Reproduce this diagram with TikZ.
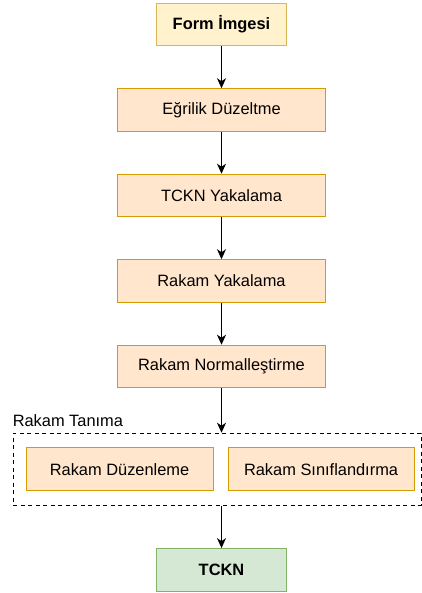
\documentclass[tikz,border=0pt]{standalone}
\usepackage{fontspec}
\setmainfont{Liberation Sans}
\usepackage{xcolor}
\usepackage{tikz}
\usetikzlibrary{arrows.meta}
\usetikzlibrary{positioning}
\definecolor{orangefill}{HTML}{FFE6CC}
\definecolor{orangeline}{HTML}{D79B00}
\definecolor{yellowfill}{HTML}{FFF2CC}
\definecolor{yellowline}{HTML}{D6B656}
\definecolor{greenfill}{HTML}{D5E8D4}
\definecolor{greenline}{HTML}{82B366}
\tikzset{
    flow box/.style={
        draw=orangeline,
        fill=orangefill,
        line width=1pt,
        align=center,
        minimum height=42.5pt,
        minimum width=208pt,
        font=\fontsize{16.4}{19}\selectfont
    },
    end box/.style={
        flow box,
        minimum width=130pt,
        font=\fontsize{16.4}{19}\selectfont\bfseries
    },
    group box/.style={
        draw=black,
        line width=0.9pt,
        dash pattern=on 4pt off 3.5pt,
        minimum width=408pt,
        minimum height=72pt
    },
    flow arrow/.style={
        -{Stealth[length=10pt,width=9pt,inset=3pt]},
        line width=1.2pt
    }
}
\begin{document}
\begin{tikzpicture}[x=1pt,y=1pt]
    \useasboundingbox (0,0) rectangle (422,-593);
    \node[end box,draw=yellowline,fill=yellowfill] (form) at (221.5,-24.5) {Form İmgesi};
    \node[flow box,below=42pt of form] (egrilik) {Eğrilik Düzeltme};
    \node[flow box,below=42pt of egrilik] (tcknyak) {TCKN Yakalama};
    \node[flow box,below=42pt of tcknyak] (rakamyak) {Rakam Yakalama};
    \node[flow box,below=42pt of rakamyak] (rakamnorm) {Rakam Normalleştirme};
    \node[group box,below=44.5pt of rakamnorm,xshift=-4.5pt] (tanima) {};
    \node[above right=6pt and 0pt of tanima.north west,inner sep=0pt,
        font=\fontsize{16.4}{19}\selectfont] (tanimalbl) {Rakam Tanıma};
    \node[flow box,minimum width=187pt,right=13pt of tanima.west] (duzen) {Rakam Düzenleme};
    \node[flow box,minimum width=186pt,right=14pt of duzen] (sinif) {Rakam Sınıflandırma};
    \node[end box,draw=greenline,fill=greenfill,below=42.5pt of tanima,xshift=4.5pt] (tckn) {TCKN};
    % akis oklari
    \foreach \s/\t in {form/egrilik,egrilik/tcknyak,tcknyak/rakamyak,rakamyak/rakamnorm}
      \draw[flow arrow] (\s) -- (\t);
    \draw[flow arrow] (rakamnorm) -- (rakamnorm |- tanima.north);
    \draw[flow arrow] (tanima.south -| tckn) -- (tckn);
\end{tikzpicture}
\end{document}
